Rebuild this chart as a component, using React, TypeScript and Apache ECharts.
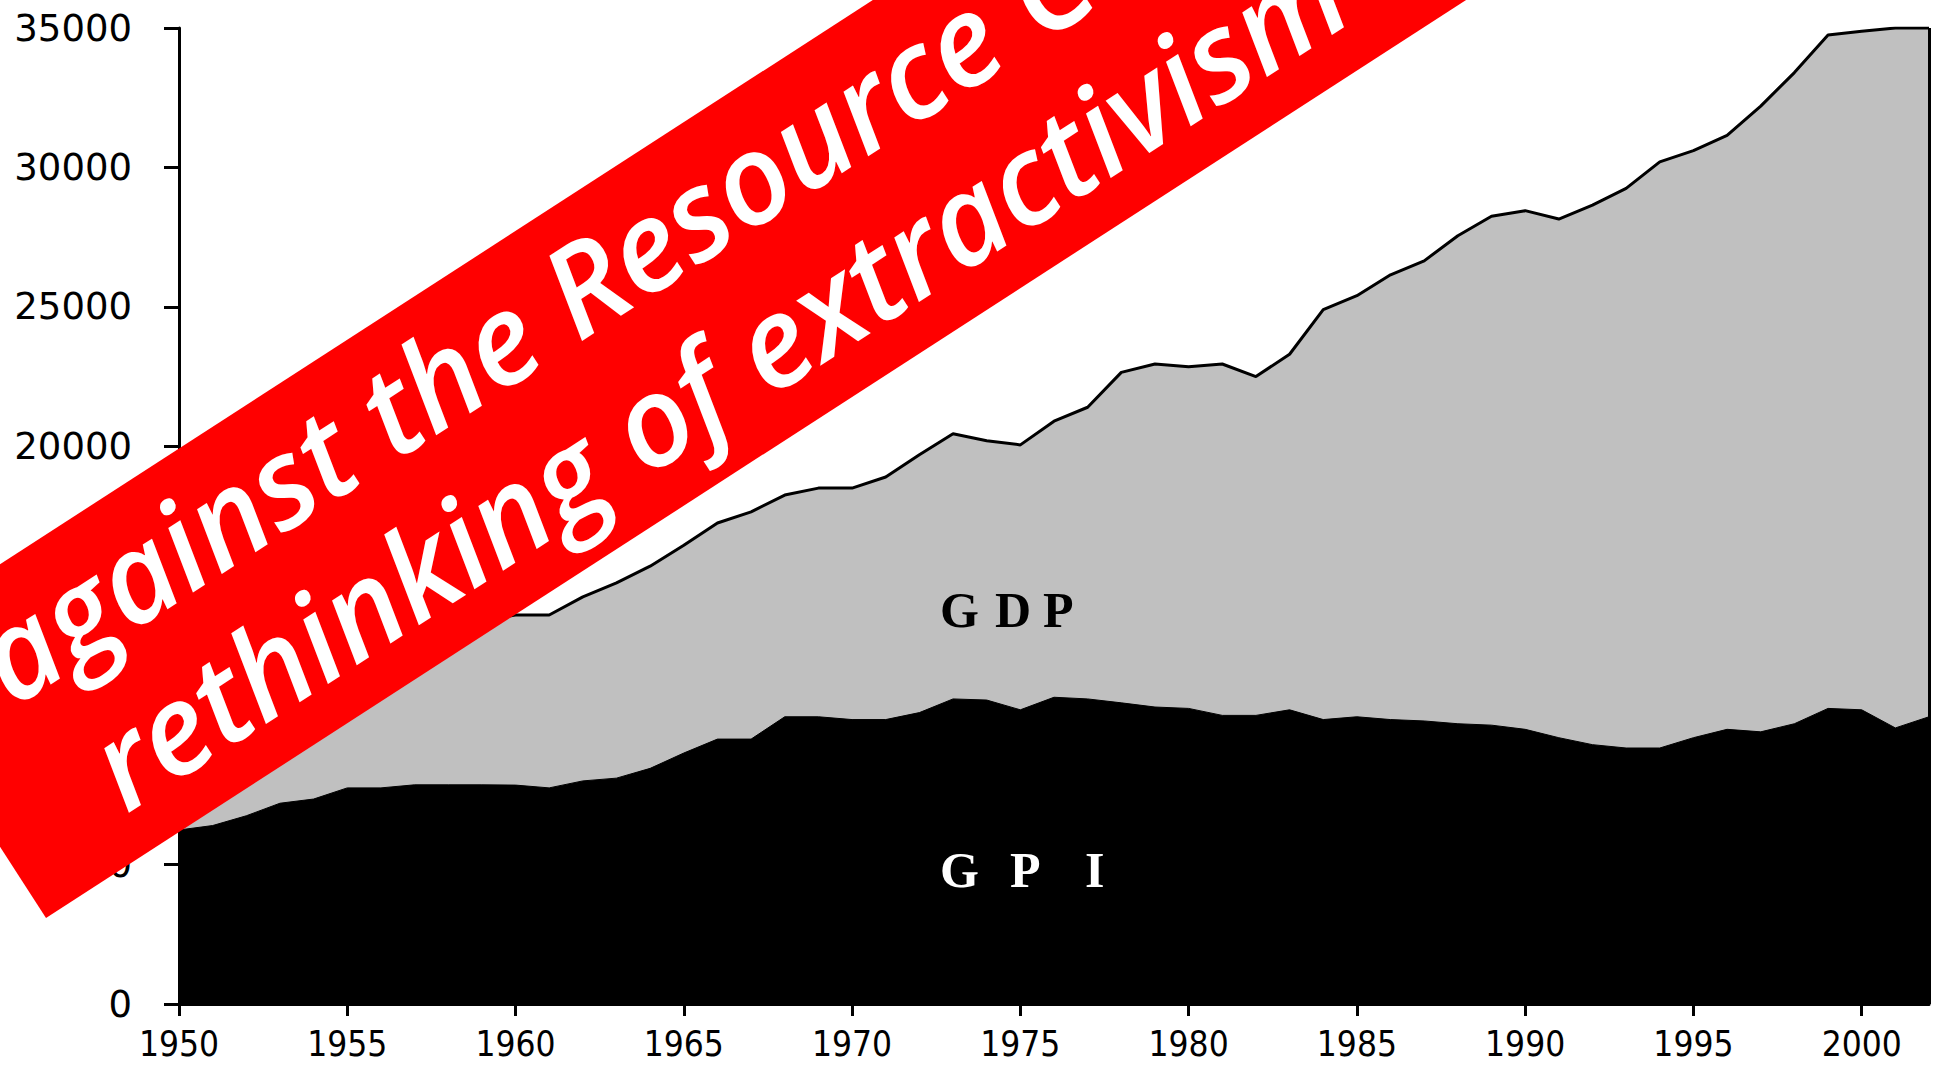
import React, { useEffect, useRef } from "react";
import * as echarts from "echarts";

const years = [
  1950, 1951, 1952, 1953, 1954, 1955, 1956, 1957, 1958, 1959,
  1960, 1961, 1962, 1963, 1964, 1965, 1966, 1967, 1968, 1969,
  1970, 1971, 1972, 1973, 1974, 1975, 1976, 1977, 1978, 1979,
  1980, 1981, 1982, 1983, 1984, 1985, 1986, 1987, 1988, 1989,
  1990, 1991, 1992, 1993, 1994, 1995, 1996, 1997, 1998, 1999,
  2000, 2001, 2002,
];

const gdpValues = [
  11700, 12200, 12450, 12850, 12700, 13300, 13400, 13500, 13300, 13750,
  13950, 13950, 14600, 15100, 15700, 16450, 17250, 17650, 18250, 18500,
  18500, 18900, 19700, 20450, 20200, 20050, 20900, 21400, 22650, 22950,
  22850, 22950, 22500, 23300, 24900, 25400, 26150, 26650, 27550, 28250,
  28450, 28150, 28650, 29250, 30200, 30600, 31150, 32200, 33400, 34750,
  34880, 35000, 35000,
];

const gpiValues = [
  6240, 6400, 6750, 7200, 7350, 7750, 7750, 7860, 7860, 7860,
  7850, 7750, 8000, 8100, 8450, 9000, 9500, 9500, 10300, 10300,
  10200, 10200, 10450, 10940, 10900, 10550, 11000, 10940, 10800, 10650,
  10600, 10350, 10350, 10550, 10200, 10300, 10200, 10150, 10050, 10000,
  9850, 9550, 9300, 9180, 9180, 9550, 9850, 9760, 10050, 10600,
  10550, 9900, 10300,
];

const xTickYears = [1950, 1955, 1960, 1965, 1970, 1975, 1980, 1985, 1990, 1995, 2000];

const bannerLine1 = "against the Resource Curse";
const bannerLine2 = "rethinking of extractivism";
const gdpLetters = ["G", "D", "P"];
const gpiLetters = ["G", "P", "I"];

export default function App() {
  const ref = useRef<HTMLDivElement>(null);

  useEffect(() => {
    if (!ref.current) return;
    const chart = echarts.init(ref.current, undefined, { renderer: "svg" });
    const theta = (32.9 * Math.PI) / 180;
    const lastYear = years[years.length - 1];
    const lastGdp = gdpValues[gdpValues.length - 1];

    const gdpX = [940, 995, 1043];
    const gpiX = [940, 1010, 1085];

    const bannerFont = {
      fill: "#fff",
      fontFamily: "'Open Sans', sans-serif",
      fontWeight: 600,
      fontStyle: "italic",
      fontSize: 125,
      verticalAlign: "middle",
      align: "left",
    };

    const option: any = {
      animation: false,
      backgroundColor: "#ffffff",
      grid: { left: 179, right: 16, top: 28, bottom: 62, containLabel: false },
      xAxis: {
        type: "value",
        min: 1950,
        max: 2002,
        interval: 5,
        splitLine: { show: false },
        axisLine: { show: true, lineStyle: { color: "#000", width: 3 } },
        axisTick: {
          show: true,
          length: 12,
          customValues: xTickYears,
          lineStyle: { color: "#000", width: 3 },
        },
        axisLabel: {
          customValues: xTickYears,
          margin: 22,
          color: "#000",
          fontFamily: "'DejaVu Sans Condensed', 'Liberation Sans Narrow', 'DejaVu Sans', sans-serif",
          fontStretch: "condensed",
          fontSize: 35,
          formatter: (v: number) => String(v),
        },
      },
      yAxis: {
        type: "value",
        min: 0,
        max: 35000,
        interval: 5000,
        splitLine: { show: false },
        axisLine: { show: true, lineStyle: { color: "#000", width: 3 } },
        axisTick: { show: true, length: 15, lineStyle: { color: "#000", width: 3 } },
        axisLabel: {
          margin: 47,
          color: "#000",
          fontFamily: "'DejaVu Sans', sans-serif",
          fontSize: 37,
          formatter: (v: number) => String(v),
        },
      },
      series: [
        {
          name: "GDP",
          type: "line",
          data: years.map((y, i) => [y, gdpValues[i]]),
          symbol: "none",
          lineStyle: { color: "#000", width: 3 },
          areaStyle: { color: "#c0c0c0", opacity: 1 },
          markLine: {
            silent: true,
            symbol: "none",
            label: { show: false },
            lineStyle: { color: "#000", width: 3, type: "solid" },
            data: [[{ coord: [lastYear, 0] }, { coord: [lastYear, lastGdp] }]],
          },
          z: 2,
        },
        {
          name: "GPI",
          type: "line",
          data: years.map((y, i) => [y, gpiValues[i]]),
          symbol: "none",
          lineStyle: { color: "#000", width: 1 },
          areaStyle: { color: "#000", opacity: 1 },
          z: 3,
        },
      ],
      graphic: [
        ...gdpLetters.map((t, i) => ({
          type: "text",
          x: gdpX[i],
          y: 585,
          z: 50,
          style: {
            text: t,
            fill: "#000",
            fontFamily: "'Liberation Serif', serif",
            fontWeight: "bold",
            fontSize: 50,
            verticalAlign: "top",
            align: "left",
          },
        })),
        ...gpiLetters.map((t, i) => ({
          type: "text",
          x: gpiX[i],
          y: 845,
          z: 50,
          style: {
            text: t,
            fill: "#fff",
            fontFamily: "'Liberation Serif', serif",
            fontWeight: "bold",
            fontSize: 50,
            verticalAlign: "top",
            align: "left",
          },
        })),
        {
          type: "group",
          x: 46,
          y: 918,
          rotation: theta,
          z: 100,
          children: [
            {
              type: "rect",
              shape: { x: 0, y: -322, width: 3000, height: 322 },
              style: { fill: "#ff0000" },
              z: 100,
            },
            {
              type: "text",
              x: 86,
              y: -242,
              z: 101,
              style: { ...bannerFont, text: bannerLine1 },
            },
            {
              type: "text",
              x: 124,
              y: -92,
              z: 101,
              style: { ...bannerFont, text: bannerLine2 },
            },
          ],
        },
      ],
    };

    chart.setOption(option);
    return () => chart.dispose();
  }, []);

  return (
    <div
      ref={ref}
      style={{ position: "fixed", left: 0, top: 0, width: 1945, height: 1066, background: "#fff" }}
    />
  );
}
